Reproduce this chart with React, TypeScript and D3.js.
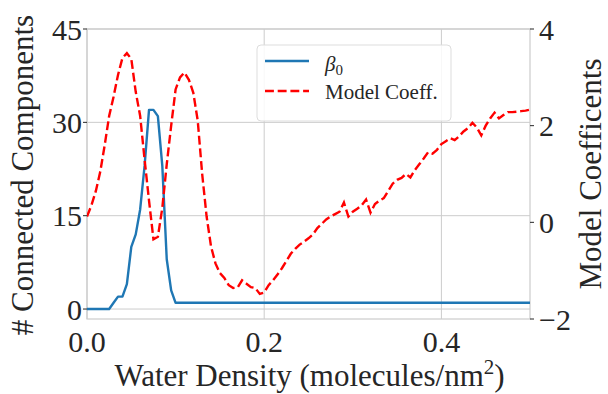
import React from "react";
import * as d3 from "d3";

const density = [
  0.0, 0.005, 0.01, 0.015, 0.02, 0.025, 0.03, 0.035, 0.04, 0.045,
  0.05, 0.055, 0.06, 0.065, 0.07, 0.075, 0.08, 0.085, 0.09, 0.095,
  0.1, 0.105, 0.11, 0.115, 0.12, 0.125, 0.13, 0.135, 0.14, 0.145,
  0.15, 0.155, 0.16, 0.165, 0.17, 0.175, 0.18, 0.185, 0.19, 0.195,
  0.2, 0.205, 0.21, 0.215, 0.22, 0.225, 0.23, 0.235, 0.24, 0.245,
  0.25, 0.255, 0.26, 0.265, 0.27, 0.275, 0.28, 0.285, 0.29, 0.295,
  0.3, 0.305, 0.31, 0.315, 0.32, 0.325, 0.33, 0.335, 0.34, 0.345,
  0.35, 0.355, 0.36, 0.365, 0.37, 0.375, 0.38, 0.385, 0.39, 0.395,
  0.4, 0.405, 0.41, 0.415, 0.42, 0.425, 0.43, 0.435, 0.44, 0.445,
  0.45, 0.455, 0.46, 0.465, 0.47, 0.475, 0.48, 0.485, 0.49, 0.495,
  0.5,
];

const beta0 = [
  0, 0, 0, 0, 0, 0, 1, 2, 2, 4,
  10, 12, 16, 23, 32, 32, 31, 23, 8, 3,
  1, 1, 1, 1, 1, 1, 1, 1, 1, 1,
  1, 1, 1, 1, 1, 1, 1, 1, 1, 1,
  1, 1, 1, 1, 1, 1, 1, 1, 1, 1,
  1, 1, 1, 1, 1, 1, 1, 1, 1, 1,
  1, 1, 1, 1, 1, 1, 1, 1, 1, 1,
  1, 1, 1, 1, 1, 1, 1, 1, 1, 1,
  1, 1, 1, 1, 1, 1, 1, 1, 1, 1,
  1, 1, 1, 1, 1, 1, 1, 1, 1, 1,
  1,
];

const modelCoeff = [
  0.12, 0.35, 0.65, 1.05, 1.6, 2.2, 2.6, 3.05, 3.4, 3.5,
  3.38, 2.7, 2.2, 1.3, 0.45, -0.35, -0.3, 0.3, 1.2, 2.0,
  2.75, 3.0, 3.1, 2.95, 2.68, 2.1, 1.0, 0.12, -0.5, -0.85,
  -1.05, -1.15, -1.3, -1.36, -1.35, -1.2, -1.27, -1.34, -1.36, -1.48,
  -1.45, -1.3, -1.2, -1.08, -0.95, -0.8, -0.65, -0.55, -0.46, -0.4,
  -0.33, -0.25, -0.12, -0.03, 0.06, 0.12, 0.17, 0.22, 0.41, 0.12,
  0.22, 0.28, 0.35, 0.47, 0.2, 0.38, 0.45, 0.5, 0.65, 0.8,
  0.88, 0.92, 1.0, 0.93, 1.08, 1.2, 1.32, 1.45, 1.42, 1.5,
  1.62, 1.68, 1.74, 1.7, 1.78, 1.88, 1.95, 2.06, 1.96, 1.8,
  2.0, 2.15, 2.27, 2.15, 2.22, 2.28, 2.28, 2.29, 2.3, 2.31,
  2.33,
];

const xTicks = [0.0, 0.2, 0.4];
const xTickLabels = ["0.0", "0.2", "0.4"];
const leftTicks = [0, 15, 30, 45];
const rightTicks = [-2, 0, 2, 4];
const rightTickLabels = ["\u22122", "0", "2", "4"];

const W = 608;
const H = 394;
const X0 = 87;
const X1 = 530;
const Y0 = 29;
const Y1 = 319;
const FONT = "'Liberation Serif', 'DejaVu Serif', serif";

export default function App() {
  const x = d3.scaleLinear().domain([0, 0.5]).range([X0, X1]);
  const yL = d3.scaleLinear().domain([-1.6, 45]).range([Y1, Y0]);
  const yR = d3.scaleLinear().domain([-2, 4]).range([Y1, Y0]);

  const blueLine = d3
    .line<number>()
    .x((_, i) => x(density[i]))
    .y((d) => yL(d))(beta0) as string;
  const redLine = d3
    .line<number>()
    .x((_, i) => x(density[i]))
    .y((d) => yR(d))(modelCoeff) as string;

  const grid = "#cccccc";
  const txt = "#262626";
  const dash = "8.9,3.8";

  return (
    <svg
      width={W}
      height={H}
      style={{ position: "fixed", left: 0, top: 0, background: "#fff" }}
      fontFamily={FONT}
    >
      <defs>
        <clipPath id="plot">
          <rect x={X0} y={Y0 - 2} width={X1 - X0} height={Y1 - Y0 + 2} />
        </clipPath>
      </defs>
      <rect x={0} y={0} width={W} height={H} fill="#fff" />
      {leftTicks.map((t) => (
        <line key={"gh" + t} x1={X0} x2={X1} y1={yL(t)} y2={yL(t)} stroke={grid} strokeWidth={1} />
      ))}
      {xTicks.map((t) => (
        <line key={"gv" + t} x1={x(t)} x2={x(t)} y1={Y0} y2={Y1} stroke={grid} strokeWidth={1} />
      ))}
      <rect x={X0} y={Y0} width={X1 - X0} height={Y1 - Y0} fill="none" stroke={grid} strokeWidth={1.2} />

      <g clipPath="url(#plot)">
        <path d={blueLine} fill="none" stroke="#1f77b4" strokeWidth={2.4} strokeLinejoin="round" />
        <path d={redLine} fill="none" stroke="#ff0000" strokeWidth={2.4} strokeDasharray={dash} />
      </g>

      {leftTicks.map((t) => (
        <g key={"lt" + t}>
          <line x1={X0 - 4} x2={X0} y1={yL(t)} y2={yL(t)} stroke={txt} strokeWidth={1} />
          <text x={X0 - 5} y={yL(t)} dy="0.35em" textAnchor="end" fontSize={30} fill={txt}>
            {t}
          </text>
        </g>
      ))}
      {rightTicks.map((t, i) => (
        <g key={"rt" + t}>
          <line x1={X1} x2={X1 + 4} y1={yR(t)} y2={yR(t)} stroke={txt} strokeWidth={1} />
          <text x={X1 + 9} y={yR(t)} dy="0.35em" textAnchor="start" fontSize={30} fill={txt}>
            {rightTickLabels[i]}
          </text>
        </g>
      ))}
      {xTicks.map((t, i) => (
        <text key={"xt" + t} x={x(t)} y={352} textAnchor="middle" fontSize={30} fill={txt}>
          {xTickLabels[i]}
        </text>
      ))}

      <text x={(X0 + X1) / 2 + 1} y={386} textAnchor="middle" fontSize={31} fill={txt}>
        Water Density (molecules/nm
        <tspan dy={-12} fontSize={21}>2</tspan>
        <tspan dy={12}>)</tspan>
      </text>
      <text
        transform={`translate(33,${(Y0 + Y1) / 2 + 1}) rotate(-90)`}
        textAnchor="middle"
        fontSize={31}
        fill={txt}
      >
        # Connected Components
      </text>
      <text
        transform={`translate(601,${(Y0 + Y1) / 2}) rotate(-90)`}
        textAnchor="middle"
        fontSize={31}
        fill={txt}
      >
        Model Coefficents
      </text>

      <g>
        <rect x={257} y={45} width={194} height={76} rx={4} fill="#fff" fillOpacity={0.85} stroke="#dddddd" strokeWidth={1} />
        <line x1={265} x2={309} y1={61} y2={61} stroke="#1f77b4" strokeWidth={2.4} />
        <line x1={265} x2={309} y1={91} y2={91} stroke="#ff0000" strokeWidth={2.4} strokeDasharray={dash} />
        <text x={325} y={71} fontSize={21} fill={txt}>
          <tspan fontStyle="italic">β</tspan>
          <tspan dy={4} fontSize={15}>0</tspan>
        </text>
        <text x={325} y={99} fontSize={21} fill={txt}>
          Model Coeff.
        </text>
      </g>
    </svg>
  );
}
